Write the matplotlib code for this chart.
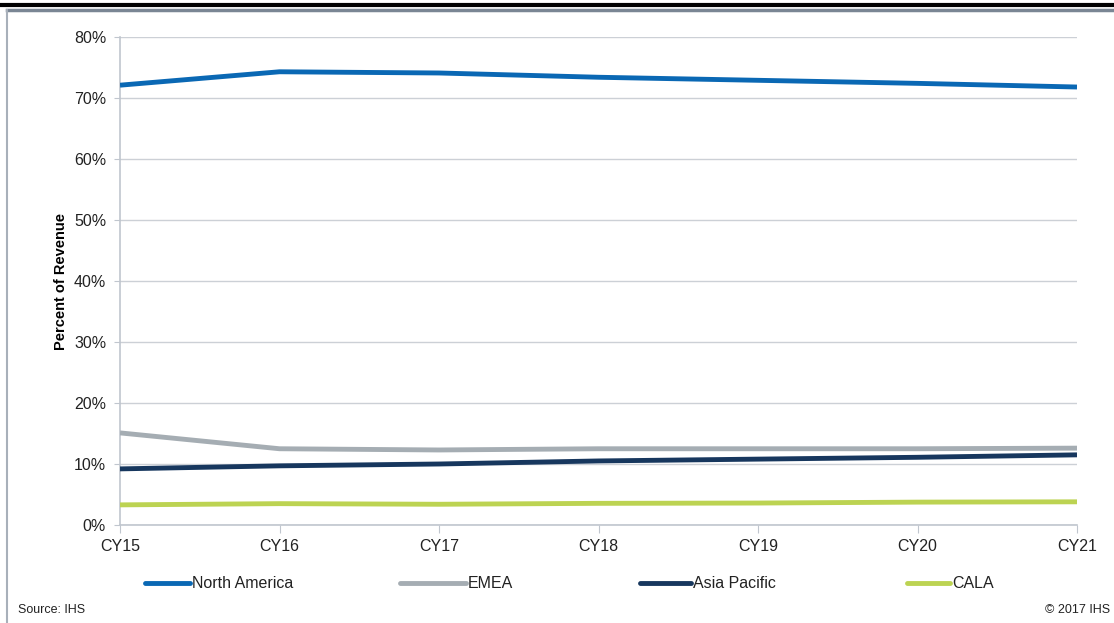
import matplotlib.pyplot as plt
from matplotlib.lines import Line2D

years = ['CY15', 'CY16', 'CY17', 'CY18', 'CY19', 'CY20', 'CY21']
north_america = [72.1, 74.3, 74.1, 73.4, 72.9, 72.4, 71.8]
emea = [15.1, 12.5, 12.3, 12.5, 12.5, 12.5, 12.6]
asia_pacific = [9.2, 9.7, 10.0, 10.5, 10.8, 11.1, 11.5]
cala = [3.3, 3.5, 3.4, 3.55, 3.6, 3.75, 3.8]

series = [
    ('North America', north_america, '#0a68b4'),
    ('EMEA', emea, '#a5adb3'),
    ('Asia Pacific', asia_pacific, '#17375e'),
    ('CALA', cala, '#bcd352'),
]

W, H = 1114, 623
fig = plt.figure(figsize=(W / 100, H / 100), dpi=100)
plt.rcParams['font.family'] = ['Liberation Sans', 'DejaVu Sans']

# plot area in pixels
x0, x1 = 120, 1077
y_top, y_bot = 37, 525
ax = fig.add_axes([x0 / W, 1 - y_bot / H, (x1 - x0) / W, (y_bot - y_top) / H])

x = list(range(len(years)))
for name, vals, color in series:
    ax.plot(x, vals, color=color, lw=3.5, solid_capstyle='butt', zorder=3)

ax.set_xlim(0, len(years) - 1)
ax.set_ylim(0, 80)
ax.set_yticks(range(0, 81, 10))
ax.set_yticklabels([f'{v}%' for v in range(0, 81, 10)], fontsize=11.5, color='#222222')
ax.set_xticks(x)
ax.set_xticklabels(years, fontsize=11.5, color='#222222')
ax.grid(axis='y', color='#ccd0d6', lw=1)
ax.set_axisbelow(True)
for s in ['top', 'right']:
    ax.spines[s].set_visible(False)
for s in ['left', 'bottom']:
    ax.spines[s].set_color('#c0c6ce')
    ax.spines[s].set_linewidth(1.2)
ax.tick_params(axis='x', length=6, color='#c0c6ce', pad=4)
ax.tick_params(axis='y', length=4, color='#c0c6ce', pad=6)
ax.set_ylabel('Percent of Revenue', fontsize=10.5, fontweight='bold', labelpad=4)

# legend, laid out like the original
leg_y = 1 - 583 / H
leg_pos = [(145, 190), (400, 466), (640, 691), (907, 950)]
for (name, vals, color), (lx0, lx1) in zip(series, leg_pos):
    fig.add_artist(Line2D([lx0 / W, lx1 / W], [leg_y, leg_y], color=color, lw=3.5,
                          solid_capstyle='round', transform=fig.transFigure))
    fig.text((lx1 + 2) / W, leg_y, name, fontsize=11.5, va='center', ha='left', color='#222222')

fig.text(18 / W, 1 - 610 / H, 'Source: IHS', fontsize=9, va='center', ha='left', color='#222222')
fig.text(1110 / W, 1 - 610 / H, '\u00a9 2017 IHS', fontsize=9, va='center', ha='right', color='#222222')

# frame lines
fig.add_artist(Line2D([0, 1], [1 - 5 / H, 1 - 5 / H], color='black', lw=3, transform=fig.transFigure))
fig.add_artist(Line2D([7 / W, 1], [1 - 10 / H, 1 - 10 / H], color='#7a8694', lw=2.5, transform=fig.transFigure))
fig.add_artist(Line2D([7 / W, 7 / W], [0, 1 - 10 / H], color='#a8b0ba', lw=1.5, transform=fig.transFigure))

fig.savefig('out.png', dpi=100)
